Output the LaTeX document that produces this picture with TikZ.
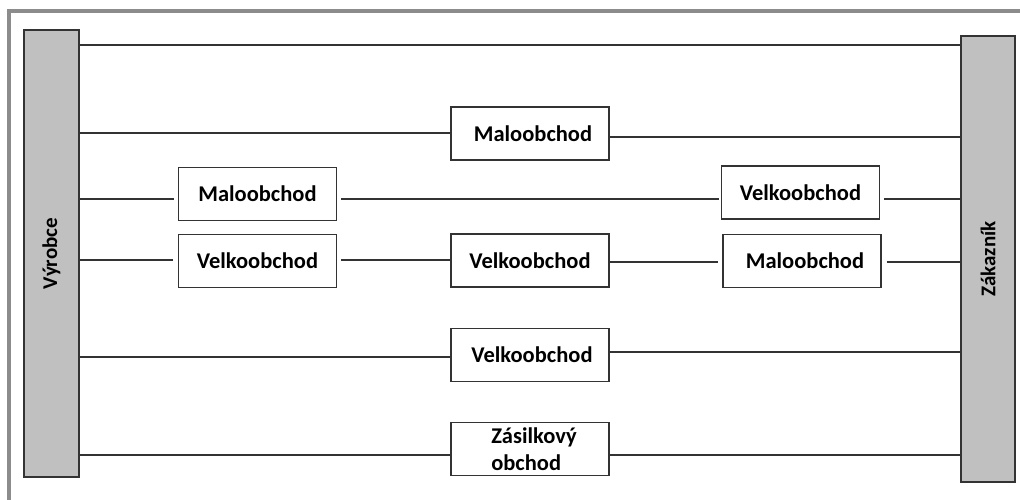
\documentclass[tikz,border=0pt]{standalone}
\usepackage{fontspec}
\newfontfamily\lblfont{Carlito}
\usetikzlibrary{calc}
\definecolor{barfill}{HTML}{C0C0C0}
\definecolor{edge}{HTML}{333333}
\definecolor{framegray}{HTML}{8C8C8C}
\tikzset{
  bar/.style={draw=edge, fill=barfill, line width=1.4pt, inner sep=0pt},
  barlabel/.style={rotate=90, font=\lblfont\bfseries\fontsize{21}{24}\selectfont, text=black},
  shop/.style={draw=edge, fill=white, line width=1.4pt, inner sep=0pt,
    minimum width=158pt, minimum height=53pt,
    font=\lblfont\bfseries\fontsize{22.5}{27}\selectfont, text=black},
  link/.style={draw=edge, line width=1.2pt},
}
\begin{document}
\begin{tikzpicture}[x=1pt, y=-1pt]
\useasboundingbox (0,0) rectangle (1020,500);
\fill[white] (0,0) rectangle (1020,500);

% outer frame
\draw[framegray, line width=4pt] (9,504) -- (9,11) -- (1024,11);

% producer and customer bars
\node[bar, minimum width=55pt, minimum height=447pt] (vyr) at (51.5,253.5) {};
\node[barlabel] (vyrlbl) at (vyr.center) {Výrobce};
\node[bar, minimum width=54pt, minimum height=446pt] (zak) at (988,259) {};
\node[barlabel] (zaklbl) at (zak.center) {Zákazník};

% intermediaries
\node[shop] (m1) at (530,133.5) {\hspace{6pt}Maloobchod};
\node[shop] (m2) at (257.5,194) {Maloobchod};
\node[shop] (v1) at (800.5,192.5) {Velkoobchod};
\node[shop] (v2) at (257.5,261) {Velkoobchod};
\node[shop] (v3) at (530,260.5) {Velkoobchod};
\node[shop] (m3) at (802,261) {\hspace{6pt}Maloobchod};
\node[shop] (v4) at (530,355) {\hspace{4pt}Velkoobchod};
\node[shop, align=left] (zas) at (530,449) {\hspace{8pt}Zásilkový\\\hspace{8pt}obchod};

% row heights
\coordinate (r1) at (0,45);
\coordinate (r2a) at (0,133);
\coordinate (r2b) at (0,137);
\coordinate (r3) at (0,199);
\coordinate (r4a) at (0,260);
\coordinate (r4b) at (0,262);
\coordinate (r5a) at (0,357);
\coordinate (r5b) at (0,352);
\coordinate (r6) at (0,455);

% channels
\draw[link] (vyr.east |- r1) -- (zak.west |- r1);

\draw[link] (vyr.east |- r2a) -- (m1.west |- r2a);
\draw[link] (m1.east |- r2b) -- (zak.west |- r2b);

\draw[link, shorten >=4pt] (vyr.east |- r3) -- (m2.west |- r3);
\draw[link, shorten <=4pt, shorten >=2pt] (m2.east |- r3) -- (v1.west |- r3);
\draw[link, shorten <=4pt] (v1.east |- r3) -- (zak.west |- r3);

\draw[link, shorten >=5pt] (vyr.east |- r4a) -- (v2.west |- r4a);
\draw[link, shorten <=4pt] (v2.east |- r4a) -- (v3.west |- r4a);
\draw[link, shorten >=4pt] (v3.east |- r4b) -- (m3.west |- r4b);
\draw[link, shorten <=5pt] (m3.east |- r4b) -- (zak.west |- r4b);

\draw[link] (vyr.east |- r5a) -- (v4.west |- r5a);
\draw[link] (v4.east |- r5b) -- (zak.west |- r5b);

\draw[link] (vyr.east |- r6) -- (zas.west |- r6);
\draw[link] (zas.east |- r6) -- (zak.west |- r6);
\end{tikzpicture}
\end{document}
